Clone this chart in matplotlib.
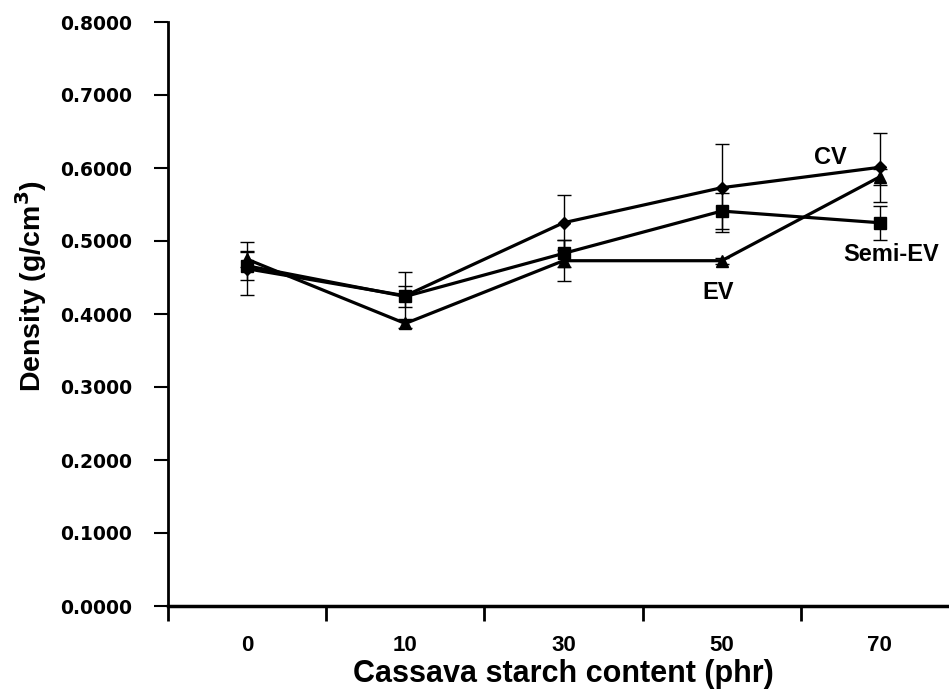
import matplotlib
matplotlib.use("Agg")
import matplotlib.pyplot as plt

categories = ["0", "10", "30", "50", "70"]

cv = [0.462, 0.425, 0.525, 0.573, 0.601]
cv_err = [0.036, 0.033, 0.038, 0.060, 0.047]

semi_ev = [0.466, 0.424, 0.483, 0.541, 0.525]
semi_ev_err = [0.020, 0.014, 0.018, 0.025, 0.023]

ev = [0.475, 0.387, 0.473, 0.473, 0.588]
ev_err = [0.010, 0.006, 0.028, 0.004, 0.011]

fig = plt.figure(figsize=(9.49, 6.97), dpi=100)
ax = fig.add_axes([168 / 949, 91 / 697, 791 / 949, 584 / 697])

x = list(range(len(categories)))
series = [(cv, cv_err, "D", 6), (semi_ev, semi_ev_err, "s", 8), (ev, ev_err, "^", 8)]
for vals, err, mk, ms in series:
    ax.errorbar(x, vals, yerr=err, color="black", lw=2.3, marker=mk, ms=ms,
                ecolor="black", elinewidth=1, capsize=5, capthick=1)

ax.set_xlim(-0.5, 4.5)
ax.set_ylim(0, 0.8)
ax.set_yticks([i / 10 for i in range(9)])
ax.set_yticklabels(["%.4f" % (i / 10) for i in range(9)], fontsize=13.5,
                   fontweight="bold", family="DejaVu Sans")
ax.set_xticks([i + 0.5 for i in range(-1, 5)])
ax.set_xticklabels([])
ax.set_xticks(x, minor=True)
ax.set_xticklabels(categories, minor=True, fontsize=16, fontweight="bold",
                   family="Liberation Sans")
ax.tick_params(axis="x", which="minor", length=0, pad=21)
ax.tick_params(axis="x", which="major", length=11, width=2, direction="out")
ax.tick_params(axis="y", length=10, width=1.5, direction="out", pad=16)

for s in ["top", "right"]:
    ax.spines[s].set_visible(False)
ax.spines["left"].set_linewidth(2)
ax.spines["bottom"].set_linewidth(2.5)

ax.set_xlabel("Cassava starch content (phr)", fontsize=22, fontweight="bold",
              family="Liberation Sans", labelpad=2)
ax.set_ylabel("Density (g/cm$^\\mathbf{3}$)", fontsize=20.5, fontweight="bold",
              family="Liberation Sans")
ax.yaxis.set_label_coords(-0.150, 0.548)

ax.text(3.69, 0.614, "CV", fontsize=17, fontweight="bold", family="Liberation Sans",
        ha="center", va="center")
ax.text(4.07, 0.481, "Semi-EV", fontsize=17, fontweight="bold", family="Liberation Sans",
        ha="center", va="center")
ax.text(2.98, 0.429, "EV", fontsize=17, fontweight="bold", family="Liberation Sans",
        ha="center", va="center")

fig.savefig("out.png", dpi=100)
